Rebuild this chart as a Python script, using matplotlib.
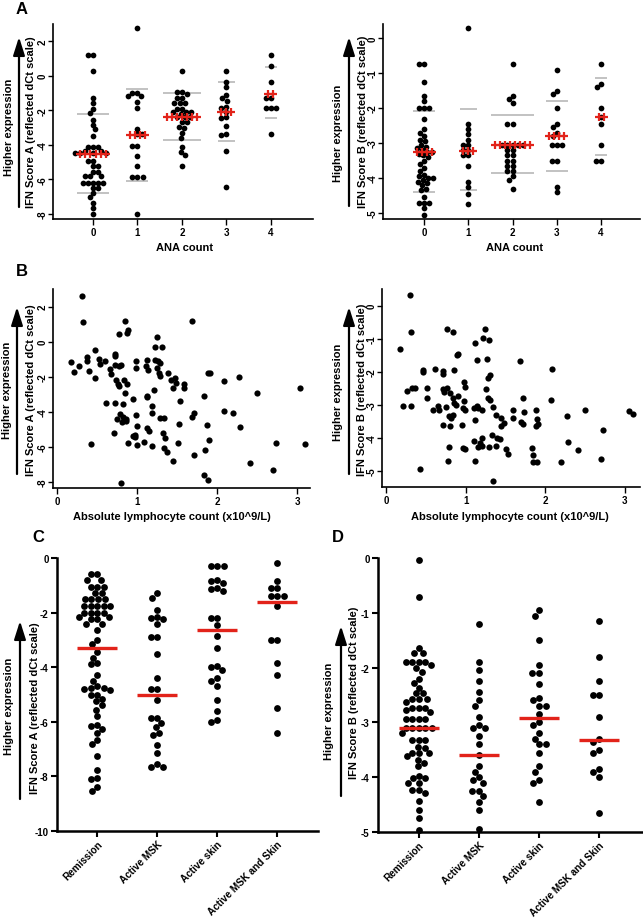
import numpy as np
import matplotlib
matplotlib.use("Agg")
import matplotlib.pyplot as plt
from matplotlib.patches import FancyArrowPatch

plt.rcParams["font.family"] = ["Liberation Sans", "DejaVu Sans"]
plt.rcParams["font.weight"] = "bold"
plt.rcParams["axes.unicode_minus"] = False

W, H = 643, 920
RED = "#e2231a"

# ---- panel A: IFN scores by ANA count ----
ana_counts = [0, 1, 2, 3, 4]
score_a_by_ana = [
    [1.2, 1.2, 0.25, -1.3, -1.6, -1.9, -2.15, -2.55, -2.85, -3.1, -3.5, -4.1, -4.1, -4.1,
     -4.35, -4.35, -4.5, -4.5, -4.5, -4.5, -4.95, -4.95, -5.25, -5.25, -5.55, -5.55, -5.8,
     -5.8, -5.8, -6.2, -6.2, -6.2, -6.2, -6.2, -6.5, -6.5, -6.8, -7.05, -7.35, -7.65, -8.0],
    [2.75, -1.0, -1.0, -1.2, -1.2, -1.5, -1.85, -3.1, -3.4, -3.4, -4.05, -4.05, -4.65, -5.25,
     -5.85, -5.85, -5.85, -8.0],
    [0.3, -0.95, -0.95, -1.05, -1.3, -1.3, -1.55, -1.55, -1.6, -1.9, -1.9, -2.1, -2.1, -2.1,
     -2.2, -2.4, -2.4, -2.4, -2.7, -2.7, -2.95, -3.0, -3.3, -3.6, -4.1, -4.4, -4.6, -5.2],
    [0.3, -0.35, -0.65, -1.1, -1.3, -1.45, -1.8, -1.85, -2.1, -2.4, -2.45, -2.9, -3.4, -3.45,
     -4.35, -6.45],
    [1.2, 0.55, -0.35, -1.3, -1.3, -1.85, -1.85, -1.85, -3.4],
]
score_a_mean = [-4.53, -3.41, -2.38, -2.12, -1.04]
score_a_upper = [-2.21, -0.75, -1.0, -0.38, 0.5]
score_a_lower = [-6.78, -6.07, -3.72, -3.8, -2.45]
score_a_nplus = [6, 4, 7, 3, 2]

score_b_by_ana = [
    [-0.75, -0.75, -1.25, -1.65, -1.8, -2.0, -2.0, -2.0, -2.3, -2.6, -2.7, -2.8, -2.9, -2.95,
     -3.05, -3.1, -3.15, -3.2, -3.25, -3.25, -3.3, -3.35, -3.4, -3.5, -3.6, -3.7, -3.8, -3.9,
     -3.95, -4.0, -4.0, -4.05, -4.1, -4.15, -4.2, -4.3, -4.35, -4.55, -4.7, -4.7, -4.7,
     -4.85, -5.05],
    [0.3, -2.45, -2.6, -2.75, -2.9, -3.05, -3.05, -3.2, -3.2, -3.35, -3.35, -3.65, -4.1,
     -4.25, -4.45, -4.75],
    [-0.75, -1.65, -1.75, -1.85, -2.45, -2.45, -3.05, -3.05, -3.05, -3.05, -3.05, -3.2, -3.2,
     -3.35, -3.35, -3.5, -3.5, -3.65, -3.65, -3.8, -3.8, -3.95, -4.05, -4.3],
    [-0.9, -1.5, -1.6, -2.0, -2.45, -2.55, -2.7, -2.8, -3.05, -3.05, -3.05, -3.5, -3.5,
     -4.25, -4.4],
    [-0.75, -1.3, -1.4, -2.0, -2.25, -2.45, -3.05, -3.5, -3.5],
]
score_b_mean = [-3.25, -3.22, -3.05, -2.81, -2.26]
score_b_upper = [-2.08, -2.03, -2.2, -1.8, -1.15]
score_b_lower = [-4.39, -4.34, -3.87, -3.8, -3.33]
score_b_nplus = [4, 3, 8, 4, 2]

# ---- panel B: IFN scores vs absolute lymphocyte count ----
lymph_a = [0.31, 0.32, 0.85, 0.89, 0.88, 0.77, 1.68, 1.25, 1.22, 1.31, 0.17, 0.27, 0.21, 0.37,
           0.38, 0.47, 0.53, 0.54, 0.6, 0.4, 0.48, 0.66, 0.67, 0.72, 0.72, 0.73, 0.78, 0.74,
           0.76, 0.78, 0.84, 0.87, 0.8, 0.61, 0.72, 0.85, 0.95, 0.99, 0.99, 1.11, 1.14, 1.12,
           1.22, 1.26, 1.29, 1.27, 1.29, 1.25, 1.39, 1.43, 1.45, 1.48, 1.49, 1.58, 1.59, 1.54,
           1.21, 1.12, 1.12, 1.19, 1.19, 1.29, 1.34, 1.12, 1.15, 1.09, 1.19, 1.33, 1.35, 1.34,
           1.37, 1.45, 1.52, 1.51, 0.99, 1.0, 0.98, 0.98, 1.0, 0.89, 0.95, 0.86, 0.83, 0.79,
           0.75, 0.81, 0.86, 0.83, 0.71, 0.43, 0.8, 1.68, 1.71, 1.71, 1.83, 1.89, 1.91, 1.87,
           1.85, 1.9, 1.84, 1.89, 2.09, 2.08, 2.2, 2.27, 2.28, 2.5, 2.41, 2.7, 2.73, 3.04, 3.1]
score_a_lymph = [2.61, 1.12, 1.18, 0.65, 0.5, 0.41, 1.18, 0.27, -0.3, -0.3, -1.16, -1.4, -1.73,
                 -0.87, -1.12, -0.47, -0.98, -1.28, -1.12, -1.69, -2.06, -1.54, -1.83, -1.31,
                 -0.68, -0.84, -1.4, -2.21, -2.4, -2.53, -2.17, -2.4, -1.35, -3.49, -3.49, -2.91,
                 -3.26, -1.12, -1.49, -1.41, -1.64, -1.07, -1.07, -1.12, -1.2, -1.8, -1.96, -1.5,
                 -1.78, -2.21, -2.63, -2.07, -2.34, -2.4, -2.66, -3.37, -2.78, -3.07, -3.17,
                 -3.68, -4.08, -4.37, -4.37, -4.94, -5.07, -5.7, -5.96, -5.2, -5.49, -6.08, -6.3,
                 -6.78, -4.69, -5.77, -4.17, -4.78, -5.3, -5.43, -5.89, -5.8, -5.35, -4.4, -4.3,
                 -4.11, -4.4, -4.6, -4.5, -3.55, -5.22, -5.84, -8.08, -4.27, -4.06, -6.46, -3.07,
                 -1.8, -1.8, -4.74, -6.15, -5.58, -7.6, -7.88, -2.25, -3.96, -4.06, -2.02, -4.88,
                 -2.91, -6.94, -7.31, -5.77, -2.63, -5.85]

lymph_b = [0.3, 0.32, 0.17, 0.21, 0.26, 0.32, 0.33, 0.36, 0.43, 0.46, 0.47, 0.52, 0.52, 0.61,
           0.59, 0.65, 0.67, 0.71, 0.72, 0.72, 0.73, 0.75, 0.72, 0.76, 0.84, 0.77, 0.8, 0.79,
           0.82, 0.84, 0.86, 0.84, 0.81, 0.79, 0.78, 0.86, 0.9, 0.89, 0.9, 0.88, 0.95, 0.98,
           0.99, 0.98, 0.97, 0.99, 0.97, 0.99, 1.1, 1.12, 1.14, 1.12, 1.1, 1.12, 1.14, 1.16,
           1.18, 1.16, 1.2, 1.2, 1.21, 1.22, 1.24, 1.25, 1.28, 1.27, 1.28, 1.29, 1.3, 1.3, 1.29,
           1.33, 1.34, 1.35, 1.38, 1.4, 1.38, 1.45, 1.44, 1.43, 1.48, 1.51, 1.53, 1.59, 1.59,
           1.68, 1.7, 1.72, 1.72, 1.73, 1.83, 1.84, 1.84, 1.9, 1.89, 1.9, 1.91, 1.88, 2.09, 2.07,
           2.2, 2.27, 2.28, 2.41, 2.5, 2.7, 2.73, 3.05, 3.1]
score_b_lymph = [0.33, -0.8, -1.3, -3.02, -2.58, -3.02, -2.48, -2.48, -4.94, -2.01, -1.96,
                 -2.48, -2.8, -1.93, -3.14, -3.02, -3.14, -1.99, -2.06, -2.51, -2.61, -3.05, -3.6,
                 -0.72, -0.8, -2.5, -2.64, -3.34, -3.4, -3.3, -2.94, -2.8, -3.65, -4.28, -4.69,
                 -1.94, -1.45, -1.5, -2.74, -2.99, -3.61, -2.31, -2.46, -2.89, -3.1, -3.14, -4.31,
                 -4.33, -3.1, -1.12, -1.63, -3.45, -4.09, -4.69, -3.02, -3.1, -4.16, -4.28, -4.25,
                 -3.14, -4.01, -0.97, -0.72, -2.51, -2.8, -1.61, -2.19, -1.05, -2.09, -2.84, -4.28,
                 -3.91, -3.07, -5.31, -3.32, -4.01, -4.25, -3.39, -3.64, -4.04, -3.54, -4.33,
                 -4.48, -3.4, -3.14, -1.68, -3.51, -3.58, -2.8, -3.2, -4.3, -4.5, -4.72, -4.72,
                 -3.14, -3.42, -3.58, -3.63, -1.91, -2.84, -4.72, -3.34, -4.13, -4.36, -3.14,
                 -4.62, -3.75, -3.17, -3.27]

# ---- panels C/D: IFN scores by disease state ----
states = ["Remission", "Active MSK", "Active skin", "Active MSK and Skin"]
score_a_state = [
    [-0.6, -0.6, -0.8, -0.8, -1.05, -1.05, -1.05, -1.28, -1.28, -1.5, -1.5, -1.5, -1.5,
     -1.75, -1.75, -1.75, -1.75, -1.75, -2.0, -2.0, -2.0, -2.0, -2.15, -2.15, -2.25, -2.25,
     -2.42, -2.42, -2.65, -3.0, -3.15, -3.45, -3.65, -3.85, -3.9, -4.3, -4.5, -4.7, -4.75,
     -4.75, -4.8, -4.85, -5.0, -5.0, -5.15, -5.25, -5.4, -5.55, -5.8, -6.1, -6.15, -6.25,
     -6.4, -6.65, -6.8, -7.25, -7.75, -8.05, -8.1, -8.4, -8.55],
    [-1.3, -1.45, -1.9, -2.15, -2.2, -2.25, -2.4, -2.9, -2.9, -3.5, -4.4, -4.8, -4.8, -5.2,
     -5.85, -5.85, -6.05, -6.2, -6.4, -6.5, -6.85, -7.15, -7.55, -7.65, -7.65],
    [-0.3, -0.3, -0.3, -0.8, -0.85, -0.9, -1.1, -1.15, -1.2, -2.2, -2.2, -2.45, -2.85, -3.3,
     -3.95, -4.0, -4.1, -4.4, -4.5, -4.7, -5.2, -5.6, -5.95, -6.0],
    [-0.2, -0.85, -1.1, -1.1, -1.4, -1.4, -1.4, -1.75, -3.0, -3.0, -3.85, -4.3, -5.5, -6.4],
]
score_a_state_median = [-3.31, -5.02, -2.64, -1.6]

score_b_state = [
    [-0.04, -0.71, -1.64, -1.73, -1.73, -1.9, -1.9, -1.9, -1.9, -1.96, -2.01, -2.08, -2.2,
     -2.29, -2.37, -2.47, -2.47, -2.57, -2.57, -2.57, -2.62, -2.73, -2.73, -2.73, -2.78,
     -2.81, -2.93, -2.93, -2.93, -2.93, -3.1, -3.1, -3.1, -3.1, -3.1, -3.2, -3.32, -3.32,
     -3.32, -3.44, -3.47, -3.56, -3.56, -3.56, -3.62, -3.68, -3.74, -3.8, -3.97, -4.02,
     -4.02, -4.1, -4.1, -4.23, -4.23, -4.29, -4.43, -4.6, -4.75, -4.96],
    [-1.2, -1.9, -2.05, -2.25, -2.45, -2.6, -2.7, -2.9, -3.05, -3.1, -3.1, -3.25, -3.4, -3.6,
     -3.8, -3.9, -4.0, -4.05, -4.1, -4.25, -4.25, -4.35, -4.45, -4.6, -4.95],
    [-0.95, -1.05, -1.5, -1.95, -2.1, -2.1, -2.3, -2.55, -2.6, -2.7, -2.7, -2.85, -3.0, -3.05,
     -3.2, -3.3, -3.4, -3.4, -3.55, -3.8, -3.9, -4.05, -4.1, -4.45],
    [-1.15, -1.8, -2.25, -2.5, -2.5, -2.9, -3.3, -3.35, -3.5, -3.55, -3.85, -3.9, -4.0, -4.65],
]
score_b_state_median = [-3.1, -3.6, -2.92, -3.32]

fig = plt.figure(figsize=(W / 100, H / 100), dpi=100)


def add_axes(left, top, right, bottom):
    return fig.add_axes([left / W, 1 - bottom / H, (right - left) / W, (bottom - top) / H])


def ftext(x, y, s, **kw):
    fig.text(x / W, 1 - y / H, s, **kw)


def up_arrow(x, y0, y1):
    fig.add_artist(FancyArrowPatch((x / W, 1 - y0 / H), (x / W, 1 - y1 / H),
                                   transform=fig.transFigure, color="k", lw=1.6,
                                   arrowstyle="-|>,head_length=1.1,head_width=0.35",
                                   mutation_scale=10, shrinkA=0, shrinkB=0))


def swarm_x(ax, center, values, diam):
    # simple beeswarm in pixel space
    vals = np.asarray(values, float)
    pix = ax.transData.transform(np.column_stack([np.full(len(vals), center), vals]))
    yp = pix[:, 1]
    offs = np.zeros(len(vals))
    placed = []
    for i in np.argsort(-yp, kind="stable"):
        near = [(ox, oy) for ox, oy in placed if abs(oy - yp[i]) < diam]
        cands = [0.0]
        for ox, oy in near:
            dx = np.sqrt(diam ** 2 - (oy - yp[i]) ** 2)
            cands += [ox - dx, ox + dx]
        for c in sorted(cands, key=lambda c: (abs(c), c)):
            if all((c - ox) ** 2 + (yp[i] - oy) ** 2 >= diam ** 2 - 1e-6 for ox, oy in near):
                break
        offs[i] = c
        placed.append((c, yp[i]))
    back = ax.transData.inverted().transform(np.column_stack([pix[:, 0] + offs, yp]))
    return back[:, 0]


def light_axes(ax):
    for s in ["top", "right"]:
        ax.spines[s].set_visible(False)
    for s in ["left", "bottom"]:
        ax.spines[s].set_linewidth(1.2)
    ax.tick_params(direction="out", length=4, width=1, labelsize=7, pad=2)
    ax.tick_params(axis="y", labelrotation=90, pad=0.5, length=3.5)
    for lbl in ax.get_yticklabels():
        lbl.set_va("center")


def ana_panel(ax, groups, means, upper, lower, nplus, xlim, ylim, yticks):
    ax.set_xlim(xlim)
    ax.set_ylim(ylim)
    step = 0.115
    for i, vals in enumerate(groups):
        xs = swarm_x(ax, ana_counts[i], vals, 5.2)
        hw = ((nplus[i] - 1) * step + 0.15) / 2
        ax.hlines([upper[i], lower[i]], ana_counts[i] - hw, ana_counts[i] + hw,
                  color="#bdbdbd", lw=1.3, zorder=1)
        ax.scatter(xs, vals, s=17, color="k", linewidths=0, zorder=2)
        px = ana_counts[i] + (np.arange(nplus[i]) - (nplus[i] - 1) / 2) * step
        ax.plot(px, [means[i]] * nplus[i], "+", color=RED, ms=6, mew=1.6, zorder=3)
    ax.set_xticks(ana_counts)
    ax.set_yticks(yticks)
    light_axes(ax)


def lymph_panel(ax, x, y, xlim, ylim, yticks):
    ax.set_xlim(xlim)
    ax.set_ylim(ylim)
    ax.scatter(x, y, s=20, color="k", linewidths=0)
    ax.set_xticks([0, 1, 2, 3])
    ax.set_yticks(yticks)
    light_axes(ax)


def state_panel(ax, groups, medians, xlim, ylim, yticks):
    ax.set_xlim(xlim)
    ax.set_ylim(ylim)
    for i, vals in enumerate(groups):
        xs = swarm_x(ax, i, vals, 6.6)
        ax.scatter(xs, vals, s=24, color="k", linewidths=0, zorder=2, clip_on=False)
        ax.hlines(medians[i], i - 0.33, i + 0.33, color=RED, lw=2.4, zorder=3)
    for s in ["top", "right"]:
        ax.spines[s].set_visible(False)
    for s in ["left", "bottom"]:
        ax.spines[s].set_linewidth(1.8)
    ax.set_yticks(yticks)
    ax.set_xticks(range(len(states)))
    ax.set_xticklabels(states, rotation=45, ha="right", rotation_mode="anchor")
    ax.tick_params(direction="out", length=4, width=1.5, labelsize=7, pad=2)
    ax.tick_params(axis="x", labelsize=7.2, pad=1.5)


# panel A
axA1 = add_axes(53, 25, 313, 220)
ana_panel(axA1, score_a_by_ana, score_a_mean, score_a_upper, score_a_lower, score_a_nplus,
          (-0.9, 4.95), (-8.3, 3.0), [-8, -6, -4, -2, 0, 2])
axA2 = add_axes(383, 25, 640, 220)
ana_panel(axA2, score_b_by_ana, score_b_mean, score_b_upper, score_b_lower, score_b_nplus,
          (-0.93, 4.88), (-5.17, 0.4), [-5, -4, -3, -2, -1, 0])

# panel B
axB1 = add_axes(53, 290, 310, 489)
lymph_panel(axB1, lymph_a, score_a_lymph, (-0.05, 3.16), (-8.34, 3.0), [-8, -6, -4, -2, 0, 2])
axB2 = add_axes(382, 290, 640, 488)
lymph_panel(axB2, lymph_b, score_b_lymph, (-0.05, 3.19), (-5.48, 0.5), [-5, -4, -3, -2, -1, 0])

# panels C, D
axC = add_axes(57, 559, 318, 832)
state_panel(axC, score_a_state, score_a_state_median, (-0.67, 3.68), (-10, 0),
            [-10, -8, -6, -4, -2, 0])
axD = add_axes(378, 559, 643, 833)
state_panel(axD, score_b_state, score_b_state_median, (-0.68, 3.73), (-5, 0),
            [-5, -4, -3, -2, -1, 0])

# labels
lab = dict(fontsize=8, ha="center", va="center")
ftext(185, 248, "ANA count", **lab)
ftext(515, 248, "ANA count", **lab)
ftext(172, 517, "Absolute lymphocyte count (x10^9/L)", **lab)
ftext(510, 517, "Absolute lymphocyte count (x10^9/L)", **lab)

ylabs = [(31, 122, "A"), (363, 122, "B"), (31, 390, "A"), (362, 390, "B"),
         (35, 708, "A"), (354, 693, "B")]
for x, y, k in ylabs:
    ftext(x, y, "IFN Score %s (reflected dCt scale)" % k, rotation=90, **lab)

for x, y in [(9, 127), (338, 133), (7, 390), (338, 392), (9, 706), (329, 711)]:
    ftext(x, y, "Higher expression", rotation=90, **lab)

for x, y0, y1 in [(19, 208, 38), (349, 207, 38), (17, 475, 308), (349, 475, 308),
                  (20, 800, 622), (341, 797, 627)]:
    up_arrow(x, y0, y1)

for x, y, s in [(22, 10, "A"), (22, 272, "B"), (38, 537, "C"), (338, 538, "D")]:
    ftext(x, y, s, fontsize=12, ha="center", va="center")

fig.savefig("out.png", dpi=100)
